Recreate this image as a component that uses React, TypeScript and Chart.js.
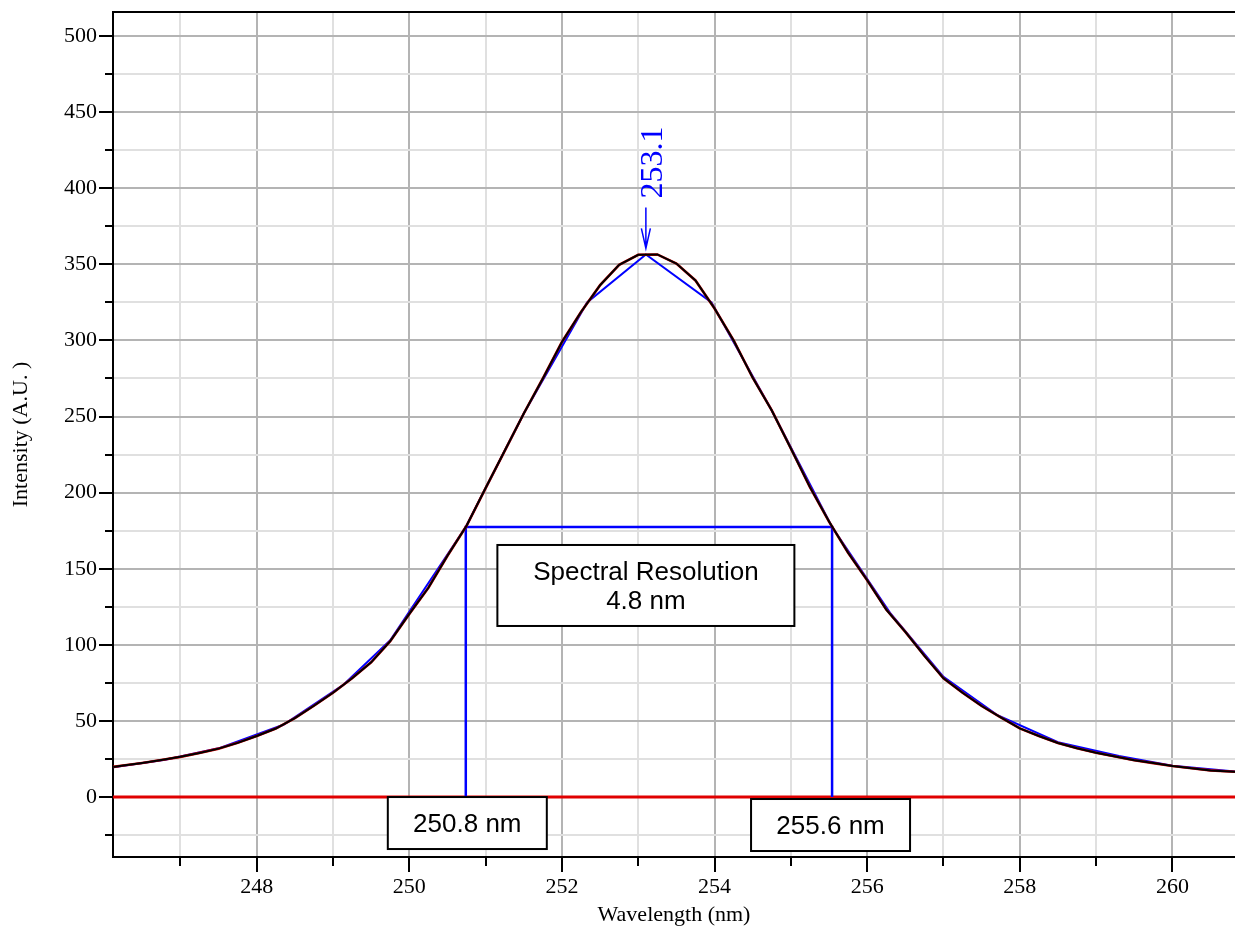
import React, { useEffect, useRef } from "react";
import { Chart, registerables } from "chart.js";

Chart.register(...registerables);

// ---- data ----
const wavelength = [
  246.12, 246.25, 246.5, 246.75, 247.0, 247.25, 247.5, 247.75, 248.0, 248.25,
  248.5, 248.75, 249.0, 249.25, 249.5, 249.75, 250.0, 250.25, 250.5, 250.75,
  251.0, 251.25, 251.5, 251.75, 252.0, 252.25, 252.5, 252.75, 253.0, 253.25,
  253.5, 253.75, 254.0, 254.25, 254.5, 254.75, 255.0, 255.25, 255.5, 255.75,
  256.0, 256.25, 256.5, 256.75, 257.0, 257.25, 257.5, 257.75, 258.0, 258.25,
  258.5, 258.75, 259.0, 259.25, 259.5, 259.75, 260.0, 260.25, 260.5, 260.75, 260.85,
];
const intensity = [
  19.8, 20.7, 22.4, 24.3, 26.4, 29.0, 31.8, 35.6, 40.1, 45.0,
  51.8, 60.0, 68.5, 78.0, 88.5, 102.4, 120.3, 137.5, 158.5, 178.2,
  203.0, 227.5, 252.0, 275.0, 299.0, 318.7, 336.3, 349.7, 356.3, 356.5,
  350.5, 339.4, 321.0, 300.0, 275.5, 254.0, 229.0, 203.6, 181.0, 160.5,
  142.4, 123.2, 108.5, 92.8, 78.0, 68.5, 59.8, 52.3, 45.1, 40.1,
  35.5, 32.1, 29.1, 26.6, 24.2, 22.3, 20.4, 18.9, 17.5, 16.8, 16.6,
];
const fitWavelength = [
  246.12, 246.8, 247.5, 248.35, 249.13, 249.75, 250.74, 251.5, 252.33, 253.1,
  253.96, 254.75, 255.54, 256.3, 257.0, 257.7, 258.5, 259.3, 260.0, 260.85,
];
const fitIntensity = [
  19.5, 24.5, 32.0, 47.5, 73.5, 103.0, 177.4, 252.0, 325.0, 356.5,
  325.0, 254.0, 177.4, 121.0, 79.0, 54.0, 36.0, 27.0, 20.5, 16.6,
];
const fwhmX = [250.74, 250.74, 255.54, 255.54];
const fwhmY = [0, 177.4, 177.4, 0];
const baselineX = [246.117, 260.82];
const baselineY = [0, 0];
const xRange = [246.117, 260.82];
const yRange = [-39.4, 515.8];
const peakWavelength = 253.1;
const peakIntensity = 356.5;
const peakLabel = "253.1";
const resolutionLines = ["Spectral Resolution", "4.8 nm"];
const resolutionAnchor = [253.1, 139];
const edgeLabels = ["250.8 nm", "255.6 nm"];
const edgeLabelX = [250.76, 255.52];
const edgeLabelTopY = [0, -1.3];

const xy = (xs: number[], ys: number[]) => xs.map((x, i) => ({ x, y: ys[i] }));

const SERIF = "'Liberation Serif', 'Times New Roman', serif";
const SANS = "'Liberation Sans', Arial, sans-serif";

const overlayPlugin = {
  id: "overlay",
  afterDatasetsDraw(chart: any) {
    const { ctx, chartArea: a } = chart;
    const xs = chart.scales.x;
    const ys = chart.scales.y;
    ctx.save();
    ctx.strokeStyle = "#000";
    ctx.lineWidth = 2;
    // top frame line
    ctx.beginPath();
    ctx.moveTo(a.left - 1, a.top);
    ctx.lineTo(a.right, a.top);
    ctx.stroke();
    // tick marks
    ys.ticks.forEach((t: any) => {
      const p = Math.round(ys.getPixelForValue(t.value));
      const len = t.value % 50 === 0 ? 14 : 8;
      ctx.beginPath();
      ctx.moveTo(a.left - len, p);
      ctx.lineTo(a.left, p);
      ctx.stroke();
    });
    xs.ticks.forEach((t: any) => {
      const p = Math.round(xs.getPixelForValue(t.value));
      const len = t.value % 2 === 0 ? 15 : 9;
      ctx.beginPath();
      ctx.moveTo(p, a.bottom);
      ctx.lineTo(p, a.bottom + len);
      ctx.stroke();
    });

    // peak arrow + label
    const px = xs.getPixelForValue(peakWavelength);
    const py = ys.getPixelForValue(peakIntensity);
    const tip = py - 6;
    ctx.strokeStyle = "#0000ff";
    ctx.lineWidth = 1.5;
    ctx.beginPath();
    ctx.moveTo(px, tip - 41);
    ctx.lineTo(px, tip);
    ctx.moveTo(px - 4.5, tip - 20);
    ctx.lineTo(px, tip);
    ctx.lineTo(px + 4.5, tip - 20);
    ctx.stroke();
    ctx.save();
    ctx.translate(px + 16, tip - 50);
    ctx.rotate(-Math.PI / 2);
    ctx.fillStyle = "#0000ff";
    ctx.font = `32px ${SERIF}`;
    ctx.textAlign = "left";
    ctx.textBaseline = "alphabetic";
    ctx.fillText(peakLabel, 0, 0);
    ctx.restore();

    // boxes
    const drawBox = (cx: number, top: number, w: number, h: number, lines: string[], firstBase: number) => {
      ctx.fillStyle = "#fff";
      ctx.fillRect(cx - w / 2, top, w, h);
      ctx.strokeStyle = "#000";
      ctx.lineWidth = 2;
      ctx.strokeRect(cx - w / 2, top, w, h);
      ctx.fillStyle = "#000";
      ctx.font = `26px ${SANS}`;
      ctx.textAlign = "center";
      ctx.textBaseline = "alphabetic";
      lines.forEach((s, i) => ctx.fillText(s, cx, top + firstBase + i * 29.5));
    };
    const rcx = xs.getPixelForValue(resolutionAnchor[0]);
    const rcy = ys.getPixelForValue(resolutionAnchor[1]);
    drawBox(rcx, rcy - 40.5, 297, 81, resolutionLines, 35);
    edgeLabels.forEach((s, i) => {
      const cx = xs.getPixelForValue(edgeLabelX[i]);
      const top = ys.getPixelForValue(edgeLabelTopY[i]);
      drawBox(cx, top, 159, 52, [s], 35);
    });
    ctx.restore();
  },
};

export default function App() {
  const ref = useRef<HTMLCanvasElement | null>(null);
  useEffect(() => {
    document.body.style.margin = "0";
    const canvas = ref.current!;
    const chart = new Chart(canvas, {
      type: "scatter",
      data: {
        datasets: [
          {
            label: "spectrum",
            data: xy(wavelength, intensity),
            showLine: true,
            borderColor: "#000000",
            borderWidth: 2,
            pointRadius: 0,
            tension: 0,
          },
          {
            label: "raw",
            data: xy(wavelength, intensity),
            showLine: true,
            borderColor: "#d00000",
            borderWidth: 2.6,
            pointRadius: 0,
            tension: 0,
          },
          {
            label: "fit",
            data: xy(fitWavelength, fitIntensity),
            showLine: true,
            borderColor: "#0000ff",
            borderWidth: 2,
            pointRadius: 0,
            tension: 0,
          },
          {
            label: "fwhm",
            data: xy(fwhmX, fwhmY),
            showLine: true,
            borderColor: "#0000ff",
            borderWidth: 2.5,
            pointRadius: 0,
            tension: 0,
          },
          {
            label: "baseline",
            data: xy(baselineX, baselineY),
            showLine: true,
            borderColor: "#e00000",
            borderWidth: 3,
            pointRadius: 0,
            tension: 0,
          },
        ],
      },
      options: {
        responsive: false,
        animation: false,
        devicePixelRatio: 1,
        events: [],
        layout: { padding: { top: 12, right: 0, left: 0, bottom: 0 } },
        plugins: { legend: { display: false }, tooltip: { enabled: false } },
        scales: {
          x: {
            type: "linear",
            position: "bottom",
            min: xRange[0],
            max: xRange[1],
            afterFit: (s: any) => {
              s.height = 73;
              s.paddingLeft = 0;
              s.paddingRight = 0;
            },
            ticks: {
              stepSize: 1,
              includeBounds: false,
              autoSkip: false,
              maxRotation: 0,
              padding: 17,
              color: "#000",
              font: { family: SERIF, size: 22 },
              callback: (v: any) => (Number(v) % 2 === 0 ? String(v) : ""),
            },
            grid: {
              drawTicks: false,
              lineWidth: 2,
              color: (c: any) => (c.tick && c.tick.value % 2 === 0 ? "#b4b4b4" : "#e0e0e0"),
            },
            border: { display: true, color: "#000", width: 2 },
            title: {
              display: true,
              text: "Wavelength (nm)",
              color: "#000",
              font: { family: SERIF, size: 22 },
              padding: { top: 0, bottom: 2 },
            },
          },
          y: {
            type: "linear",
            position: "left",
            min: yRange[0],
            max: yRange[1],
            afterFit: (s: any) => {
              s.width = 113;
              s.paddingTop = 0;
              s.paddingBottom = 0;
            },
            ticks: {
              stepSize: 25,
              includeBounds: false,
              autoSkip: false,
              padding: 16,
              color: "#000",
              font: { family: SERIF, size: 22 },
              callback: (v: any) => (Number(v) % 50 === 0 ? String(v) : ""),
            },
            grid: {
              drawTicks: false,
              lineWidth: 2,
              color: (c: any) => (c.tick && c.tick.value % 50 === 0 ? "#b4b4b4" : "#e0e0e0"),
            },
            border: { display: true, color: "#000", width: 2 },
            title: {
              display: true,
              text: "Intensity (A.U. )",
              color: "#000",
              font: { family: SERIF, size: 22 },
              padding: { top: 8, bottom: 0 },
            },
          },
        },
      },
      plugins: [overlayPlugin],
    } as any);
    return () => chart.destroy();
  }, []);
  return (
    <div style={{ position: "fixed", left: 0, top: 0, width: 1235, height: 930, background: "#fff" }}>
      <canvas ref={ref} width={1235} height={930} style={{ display: "block", width: 1235, height: 930 }} />
    </div>
  );
}
